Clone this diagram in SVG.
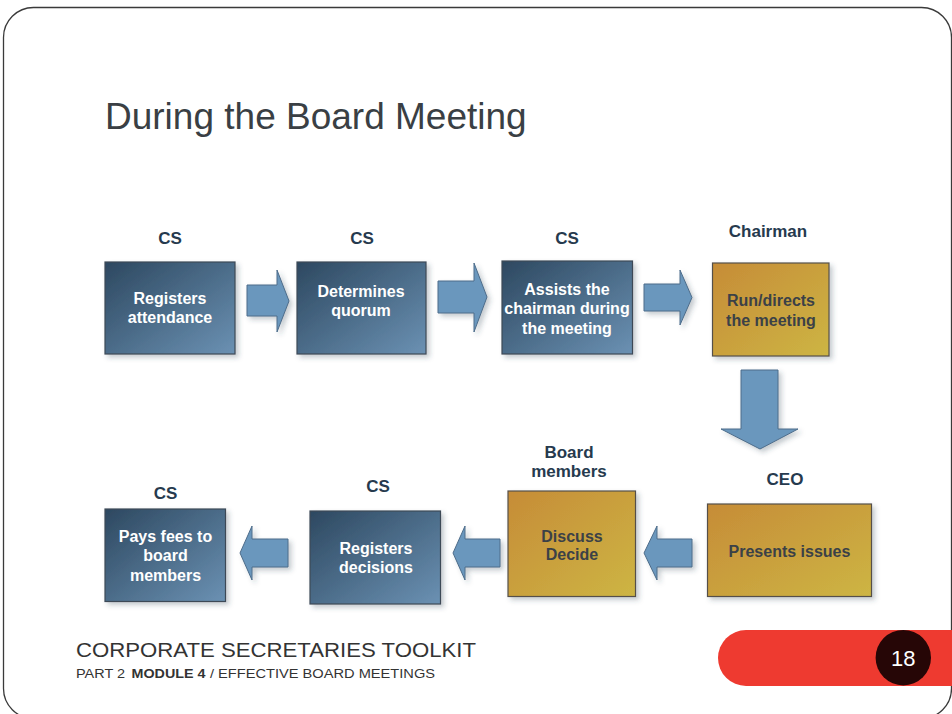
<svg xmlns="http://www.w3.org/2000/svg" width="952" height="714" viewBox="0 0 952 714">
<defs>
<linearGradient id="gBlue" x1="0" y1="0" x2="1" y2="1">
<stop offset="0" stop-color="#2d4860"/>
<stop offset="1" stop-color="#6b91b3"/>
</linearGradient>
<linearGradient id="gGold" x1="0" y1="0" x2="1" y2="1">
<stop offset="0" stop-color="#c68c37"/>
<stop offset="1" stop-color="#cdb544"/>
</linearGradient>
<filter id="sh" x="-20%" y="-20%" width="150%" height="150%">
<feDropShadow dx="3" dy="3" stdDeviation="2.5" flood-color="#2a3f55" flood-opacity="0.28"/>
</filter>
<style>
.bbox{fill:url(#gBlue);stroke:#3e4a56;stroke-width:1.2;filter:url(#sh)}
.gbox{fill:url(#gGold);stroke:#55504a;stroke-width:1.2;filter:url(#sh)}
.arr{fill:#6a97bd;stroke:#4d6c8a;stroke-width:1;filter:url(#sh)}
.lbl{font-family:"Liberation Sans",Arial,sans-serif;font-weight:bold;font-size:17px;fill:#263a4e;text-anchor:middle}
.wt{font-family:"Liberation Sans",Arial,sans-serif;font-weight:bold;font-size:16px;fill:#ffffff;text-anchor:middle}
.dt{font-family:"Liberation Sans",Arial,sans-serif;font-weight:bold;font-size:16px;fill:#3b4147;text-anchor:middle}
.ft{font-family:"Liberation Sans",Arial,sans-serif;fill:#333333}
</style>
</defs>
<rect x="3.5" y="7.5" width="948" height="711" rx="30" ry="30" fill="#ffffff" stroke="#3a3a3a" stroke-width="1.3"/>
<text x="105" y="129" font-family="'Liberation Sans',Arial,sans-serif" font-size="37" fill="#3a3f44">During the Board Meeting</text>

<g id="connectors">
<polygon class="arr" points="247,285 277,285 277,270 289,301 277,332 277,316 247,316"/>
<polygon class="arr" points="438,281 474,281 474,263 487,297 474,332 474,313 438,313"/>
<polygon class="arr" points="644,284 680,284 680,270 692,297.5 680,325 680,311 644,311"/>
<polygon class="arr" points="741,370 778,370 778,429 798,429 760,449 721,429 741,429"/>
<polygon class="arr" points="692,539 657,539 657,526 644,553 657,580 657,567 692,567"/>
<polygon class="arr" points="500,539 465,539 465,526 453,553 465,580 465,567 500,567"/>
<polygon class="arr" points="288,539 252,539 252,526 240,553 252,580 252,567 288,567"/>
</g>

<g id="n1">
<text class="lbl" x="170" y="244">CS</text>
<rect class="bbox" x="105" y="262" width="130" height="92"/>
<text class="wt" x="170" y="304">Registers</text>
<text class="wt" x="170" y="323">attendance</text>
</g>
<g id="n2">
<text class="lbl" x="362" y="244">CS</text>
<rect class="bbox" x="297" y="262" width="129" height="92"/>
<text class="wt" x="361" y="297">Determines</text>
<text class="wt" x="361" y="316">quorum</text>
</g>
<g id="n3">
<text class="lbl" x="567" y="243.5">CS</text>
<rect class="bbox" x="502" y="261" width="130.5" height="93"/>
<text class="wt" x="567" y="294.5">Assists the</text>
<text class="wt" x="567" y="314">chairman during</text>
<text class="wt" x="567" y="333.5">the meeting</text>
</g>
<g id="n4">
<text class="lbl" x="768" y="237">Chairman</text>
<rect class="gbox" x="712.5" y="263" width="116.5" height="93"/>
<text class="dt" x="771" y="306">Run/directs</text>
<text class="dt" x="771" y="325.5">the meeting</text>
</g>
<g id="n5">
<text class="lbl" x="785" y="485">CEO</text>
<rect class="gbox" x="707.5" y="504" width="164" height="92.5"/>
<text class="dt" x="789.5" y="557">Presents issues</text>
</g>
<g id="n6">
<text class="lbl" x="569" y="457.5">Board</text>
<text class="lbl" x="569" y="476.5">members</text>
<rect class="gbox" x="508" y="491" width="127.5" height="105.5"/>
<text class="dt" x="572" y="541.5">Discuss</text>
<text class="dt" x="572" y="559.5">Decide</text>
</g>
<g id="n7">
<text class="lbl" x="378" y="492">CS</text>
<rect class="bbox" x="310" y="511" width="130.5" height="93"/>
<text class="wt" x="376" y="554">Registers</text>
<text class="wt" x="376" y="573">decisions</text>
</g>
<g id="n8">
<text class="lbl" x="165.5" y="499">CS</text>
<rect class="bbox" x="105" y="509" width="120.5" height="92.5"/>
<text class="wt" x="165.5" y="542">Pays fees to</text>
<text class="wt" x="165.5" y="561">board</text>
<text class="wt" x="165.5" y="581">members</text>
</g>

<g id="footer">
<text class="ft" x="76" y="657" font-size="20.5" textLength="400" lengthAdjust="spacingAndGlyphs">CORPORATE SECRETARIES TOOLKIT</text>
<text class="ft" x="76" y="677.5" font-size="12" textLength="49" lengthAdjust="spacingAndGlyphs">PART 2</text>
<text class="ft" x="131.5" y="677.5" font-size="12" font-weight="bold" textLength="74" lengthAdjust="spacingAndGlyphs">MODULE 4</text>
<text class="ft" x="210" y="677.5" font-size="12" textLength="225" lengthAdjust="spacingAndGlyphs">/ EFFECTIVE BOARD MEETINGS</text>
</g>
<g id="pagenum">
<path d="M746,630 H952 V686 H746 A28,28 0 0 1 746,630 Z" fill="#ee3a30"/>
<circle cx="903.3" cy="657.7" r="27.7" fill="#260606"/>
<text x="903.3" y="665.5" font-family="'Liberation Sans',Arial,sans-serif" font-size="22" fill="#ffffff" text-anchor="middle">18</text>
</g>
</svg>
